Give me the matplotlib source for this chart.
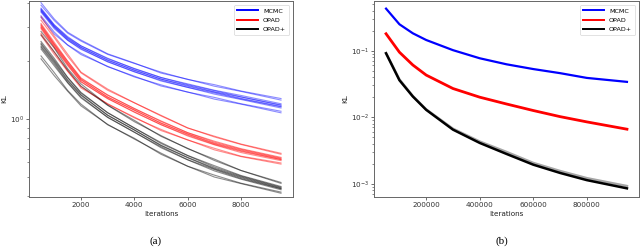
import matplotlib
matplotlib.use('Agg')
import numpy as np
import matplotlib.pyplot as plt
from matplotlib.lines import Line2D
from matplotlib.ticker import NullFormatter

# ---- panel (a): KL vs iterations, 10 runs per method ----
# values, stored as log10(KL)
iters_a = [500, 1000, 1500, 2000, 3000, 4000, 5000, 6000, 7000, 8000, 9500]

mcmc_log = [
    [.603, .518, .450, .409, .338, .290, .238, .206, .170, .143, .098],
    [.590, .510, .445, .404, .335, .288, .243, .205, .178, .145, .106],
    [.575, .488, .427, .379, .315, .260, .215, .178, .147, .115, .073],
    [.570, .486, .422, .379, .312, .262, .215, .182, .149, .122, .079],
    [.567, .480, .419, .371, .306, .252, .207, .170, .139, .107, .065],
    [.562, .478, .414, .371, .304, .254, .207, .174, .141, .114, .071],
    [.559, .474, .409, .365, .296, .246, .197, .164, .129, .101, .057],
    [.554, .468, .408, .361, .298, .244, .201, .164, .135, .104, .063],
    [.535, .450, .384, .341, .271, .222, .171, .140, .103, .077, .032],
    [.527, .440, .383, .334, .273, .218, .177, .139, .112, .079, .040],
]
opad_log = [
    [.530, .430, .336, .243, .155, .084, .019, -.046, -.093, -.132, -.183],
    [.512, .421, .325, .239, .149, .084, .016, -.047, -.089, -.130, -.178],
    [.495, .397, .300, .213, .123, .055, -.013, -.071, -.120, -.157, -.203],
    [.489, .389, .299, .209, .125, .053, -.010, -.071, -.115, -.154, -.199],
    [.485, .386, .291, .204, .114, .046, -.022, -.079, -.128, -.165, -.210],
    [.478, .381, .287, .202, .113, .046, -.021, -.077, -.125, -.161, -.206],
    [.475, .374, .282, .193, .107, .035, -.029, -.088, -.134, -.174, -.216],
    [.468, .371, .277, .193, .105, .037, -.030, -.084, -.132, -.168, -.211],
    [.444, .347, .249, .168, .077, .010, -.060, -.108, -.160, -.195, -.234],
    [.434, .335, .247, .161, .079, .006, -.054, -.109, -.152, -.193, -.228],
]
opadp_log = [
    [.454, .367, .261, .182, .072, -.007, -.090, -.152, -.215, -.267, -.334],
    [.436, .347, .254, .170, .071, -.014, -.086, -.154, -.208, -.267, -.329],
    [.402, .314, .216, .138, .032, -.046, -.127, -.190, -.249, -.296, -.354],
    [.393, .305, .214, .134, .033, -.047, -.122, -.189, -.242, -.293, -.350],
    [.387, .299, .203, .126, .020, -.057, -.138, -.201, -.259, -.304, -.361],
    [.378, .292, .198, .123, .019, -.057, -.136, -.199, -.255, -.300, -.357],
    [.372, .284, .190, .114, .008, -.068, -.149, -.212, -.269, -.312, -.367],
    [.363, .275, .187, .109, .009, -.069, -.144, -.211, -.262, -.309, -.362],
    [.327, .240, .148, .077, -.030, -.100, -.183, -.245, -.301, -.335, -.385],
    [.312, .224, .144, .068, -.028, -.104, -.177, -.245, -.291, -.333, -.379],
]

# ---- panel (b): long runs (KL) ----
iters_b = [50000, 100000, 150000, 200000, 300000, 400000, 500000,
           600000, 700000, 800000, 950000]
mcmc_b = [0.43, 0.25, 0.183, 0.145, 0.102, 0.077, 0.0625, 0.053, 0.046, 0.039, 0.034]
opad_b = [0.18, 0.095, 0.061, 0.043, 0.027, 0.020, 0.0158, 0.0126, 0.0102, 0.0085, 0.0066]
opadp_b = [0.0915, 0.036, 0.0205, 0.0129, 0.0065, 0.0041, 0.0028, 0.00193, 0.00145, 0.00113, 0.00085]
opadp_b2 = [0.0920, 0.037, 0.0208, 0.0131, 0.0067, 0.0043, 0.0030, 0.00205, 0.00155, 0.00121, 0.00092]

methods = ['MCMC', 'OPAD', 'OPAD+']
colors = ['blue', 'red', 'black']

fs = 5.2
plt.rcParams['font.family'] = 'DejaVu Sans'

fig = plt.figure(figsize=(6.4, 2.5), dpi=100)
ax1 = fig.add_axes([29 / 640, 53 / 250, 264 / 640, 196 / 250])
ax2 = fig.add_axes([374 / 640, 53 / 250, 265 / 640, 196 / 250])

for runs, c in zip([mcmc_log, opad_log, opadp_log], colors):
    for r in runs:
        ax1.plot(iters_a, 10 ** np.array(r), color=c, lw=0.8, alpha=0.45)

ax2.plot(iters_b, mcmc_b, color='blue', lw=1.6)
ax2.plot(iters_b, opad_b, color='red', lw=2.0)
ax2.plot(iters_b, opadp_b2, color='black', lw=1.8, alpha=0.35)
ax2.plot(iters_b, opadp_b, color='black', lw=1.8)

ax1.set_ylim(0.394, 4.09)
ax1.set_xlim(50, 9950)
ax2.set_ylim(6.3e-4, 0.56)
ax2.set_xlim(5000, 995000)

handles = [Line2D([], [], color=c, lw=1.4) for c in colors]
for ax in (ax1, ax2):
    ax.set_yscale('log')
    ax.yaxis.set_minor_formatter(NullFormatter())
    ax.tick_params(which='major', labelsize=fs, length=2, width=0.5, pad=1.5, colors='#333333')
    ax.tick_params(which='minor', length=1.2, width=0.4, colors='#333333')
    for s in ax.spines.values():
        s.set_linewidth(0.7)
        s.set_color('#666666')
    ax.set_xlabel('Iterations', fontsize=fs, labelpad=2, color='#222222')
    ax.set_ylabel('KL', fontsize=fs, labelpad=2, color='#222222')
    leg = ax.legend(handles, methods, loc='upper right', fontsize=4.6,
                    handlelength=3.2, borderpad=0.5, labelspacing=0.6,
                    framealpha=1, fancybox=True, borderaxespad=0.6)
    leg.get_frame().set_linewidth(0.4)

ax1.set_xticks([2000, 4000, 6000, 8000])
ax2.set_xticks([200000, 400000, 600000, 800000])

fig.text(156 / 640, 1 - 241 / 250, '(a)', fontsize=8, family='Liberation Serif',
         ha='center', va='center')
fig.text(502 / 640, 1 - 241 / 250, '(b)', fontsize=8, family='Liberation Serif',
         ha='center', va='center')

fig.savefig('out.png', dpi=100)
